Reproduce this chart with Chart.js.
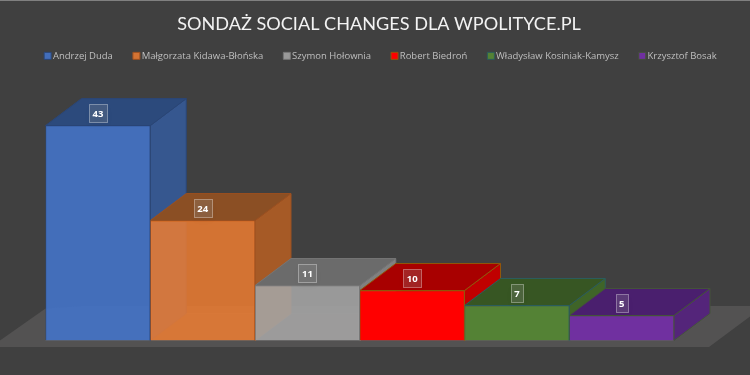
<!DOCTYPE html>
<html>
	<head>
		<meta charset="utf-8">
		<title>Sondaż Social Changes dla wPolityce.pl</title>
		<script src="https://cdn.jsdelivr.net/npm/chart.js@4"></script>
		<style>
			html, body { margin: 0; padding: 0; background: #404040; overflow: hidden; }
			canvas { display: block; }
		</style>
	</head>
	<body>
		<canvas id="myChart" width="750" height="375"></canvas>
		<script>
			// dane
			const chartTitle = 'SONDAŻ SOCIAL CHANGES DLA WPOLITYCE.PL';
			const categories = ['Sondaż'];
			const candidates = ['Andrzej Duda', 'Małgorzata Kidawa-Błońska', 'Szymon Hołownia', 'Robert Biedroń', 'Władysław Kosiniak-Kamysz', 'Krzysztof Bosak'];
			const values = [43, 24, 11, 10, 7, 5];

			// kolory ścian słupków
			const frontColors = ['rgba(68,114,196,0.93)', 'rgba(237,125,49,0.85)', 'rgba(165,165,165,0.88)', '#ff0000', '#548235', '#7030a0'];
			const topColors = ['#2c4a7c', '#8b4f24', '#6b6b6b', '#a80000', '#375623', '#4a1f6e'];
			const sideColors = ['#36578f', '#a65a26', '#808080', '#c00000', '#3f6428', '#54257a'];
			const edgeColors = ['#2a4677', '#9c5020', '#757575', '#93560a', '#2b5c5c', '#44533a'];

			// głębokość "3D"
			const depthX = 36;
			const depthY = 27;

			function poly (ctx, pts, fill, stroke) {
				ctx.beginPath();
				pts.forEach((p, i) => i ? ctx.lineTo(p[0], p[1]) : ctx.moveTo(p[0], p[1]));
				ctx.closePath();
				ctx.fillStyle = fill;
				ctx.fill();
				if (stroke) {
					ctx.strokeStyle = stroke;
					ctx.lineWidth = 1;
					ctx.stroke();
				}
			}

			function barBox (chart, i) {
				const el = chart.getDatasetMeta(i).data[0];
				return { left: el.x - el.width / 2, right: el.x + el.width / 2, top: el.y, base: el.base, mid: el.x };
			}

			const faces3d = {
				id: 'faces3d',
				afterLayout (chart) {
					// legenda lekko w prawo i w dół względem tytułu
					chart.legend.left += 3;
					chart.legend.right += 3;
					chart.legend.top += 1;
				},
				beforeDraw (chart) {
					const ctx = chart.ctx;
					// górna jasna linia
					ctx.save();
					ctx.fillStyle = '#808080';
					ctx.fillRect(0, 0, 750, 1);
					ctx.restore();
				},
				beforeDatasetsDraw (chart) {
					const ctx = chart.ctx;
					const a = chart.chartArea;
					ctx.save();
					// podłoga
					poly(ctx, [[0, a.bottom], [a.left, a.bottom - 32], [a.left + 36, a.bottom - 34.5], [750, a.bottom - 34.5], [750, a.bottom - 24], [a.right + 35, a.bottom + 6.5], [0, a.bottom + 6.5]], '#535252');
					// boki i góry od lewej do prawej
					values.forEach((v, i) => {
						const b = barBox(chart, i);
						poly(ctx, [[b.left, b.base], [b.left + depthX, b.base - depthY], [b.right + depthX, b.base - depthY], [b.right, b.base]], 'rgba(255,255,255,0.03)', 'rgba(255,255,255,0.05)');
						poly(ctx, [[b.right, b.top], [b.right + depthX, b.top - depthY], [b.right + depthX, b.base - depthY], [b.right, b.base]], sideColors[i], edgeColors[i]);
						poly(ctx, [[b.left, b.top], [b.left + depthX, b.top - depthY], [b.right + depthX, b.top - depthY], [b.right, b.top]], topColors[i], edgeColors[i]);
					});
					ctx.restore();
				},
				afterDatasetsDraw (chart) {
					const ctx = chart.ctx;
					ctx.save();
					ctx.font = 'bold 9.5px "Open Sans"';
					ctx.textAlign = 'center';
					ctx.textBaseline = 'middle';
					values.forEach((v, i) => {
						const b = barBox(chart, i);
						const w = v > 9 ? 18 : 12;
						const x = Math.round(b.mid - w / 2) + 0.5;
						const y = Math.round(b.top - 21.5) + 0.5;
						ctx.shadowColor = 'rgba(0,0,0,0.3)';
						ctx.shadowBlur = 7;
						ctx.shadowOffsetY = 3;
						ctx.fillStyle = 'rgba(0,0,0,0.1)';
						ctx.fillRect(x, y, w, 18);
						ctx.shadowColor = 'transparent';
						ctx.fillStyle = 'rgba(255,255,255,0.14)';
						ctx.fillRect(x, y, w, 18);
						ctx.strokeStyle = 'rgba(255,255,255,0.35)';
						ctx.lineWidth = 1;
						ctx.strokeRect(x, y, w, 18);
						ctx.fillStyle = '#ffffff';
						ctx.fillText(String(v), b.mid, y + 9.5);
					});
					ctx.restore();
				}
			};

			const ctx = document.getElementById('myChart').getContext('2d');
			const chart = new Chart(ctx, {
				type: 'bar',
				data: {
					labels: categories,
					datasets: candidates.map((name, i) => ({
						label: name,
						data: [values[i]],
						backgroundColor: frontColors[i],
						borderColor: edgeColors[i],
						borderWidth: 1
					}))
				},
				plugins: [faces3d],
				options: {
					responsive: false,
					animation: false,
					layout: { padding: { left: 8, right: 0, top: 0, bottom: 0 } },
					datasets: { bar: { barPercentage: 1, categoryPercentage: 1 } },
					plugins: {
						title: {
							display: true,
							text: chartTitle,
							color: '#f2f2f2',
							font: { family: 'Lato', size: 18.1, weight: 'normal' },
							padding: { top: 13, bottom: -7.6 }
						},
						legend: {
							display: true,
							position: 'top',
							labels: {
								color: '#bfbfbf',
								font: { family: '"Open Sans"', size: 9.5 },
								usePointStyle: true,
								pointStyle: 'rect',
								boxWidth: 1,
								boxHeight: 7,
								padding: 23
							}
						},
						tooltip: { enabled: false }
					},
					scales: {
						x: {
							grid: { display: false },
							border: { display: false },
							ticks: { display: false },
							afterFit: (s) => { s.height = 34.5; }
						},
						y: {
							min: 0,
							max: 54.2,
							grid: { display: false },
							border: { display: false },
							ticks: { display: false },
							afterFit: (s) => { s.width = 37.5; }
						},
						right: {
							position: 'right',
							grid: { display: false },
							border: { display: false },
							ticks: { display: false },
							afterFit: (s) => { s.width = 76; }
						}
					}
				}
			});
		</script>
	</body>
</html>
